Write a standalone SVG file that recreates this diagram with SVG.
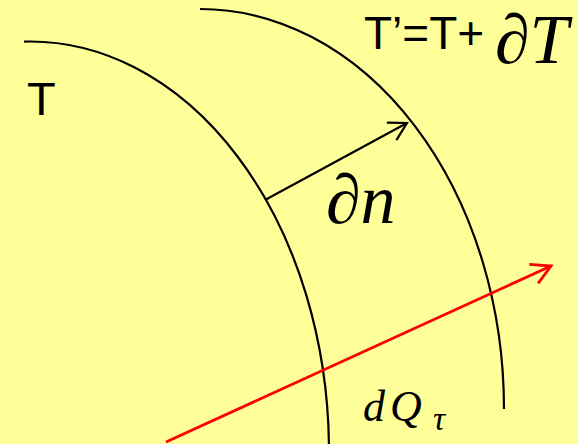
<svg xmlns="http://www.w3.org/2000/svg" width="578" height="444" viewBox="0 0 578 444">
  <style>
    .arc { fill: none; stroke: #000; stroke-width: 2.2; }
    .sans { font-family: "Liberation Sans", Arial, sans-serif; fill: #000; }
    .math { font-family: "Liberation Serif", "Times New Roman", serif; font-style: italic; fill: #000; }
  </style>
  <defs>
    <marker id="headBlack" markerUnits="userSpaceOnUse" viewBox="-22 -13 26 26" markerWidth="26" markerHeight="26" refX="0" refY="0" orient="auto">
      <path d="M-17.5,-10 L0,0 L-17.5,10" fill="none" stroke="#000" stroke-width="2.2" stroke-linejoin="miter"/>
    </marker>
    <marker id="headRed" markerUnits="userSpaceOnUse" viewBox="-22 -13 26 26" markerWidth="26" markerHeight="26" refX="0" refY="0" orient="auto">
      <path d="M-19,-10.5 L0,0 L-19,10.5" fill="none" stroke="#FF0000" stroke-width="2.8"/>
    </marker>
  </defs>
  <rect width="578" height="444" fill="#FFFF99"/>

  <g id="inner-isotherm">
    <path class="arc" d="M24,41.6 A299,410.5 0 0 1 328.97,446"/>
  </g>
  <g id="outer-isotherm">
    <path class="arc" d="M200,9 A304,400 0 0 1 504,409"/>
  </g>

  <g id="connectors">
    <line id="normal" x1="265" y1="200" x2="407" y2="123" stroke="#000" stroke-width="2.2" marker-end="url(#headBlack)"/>
    <line id="heat-flow" x1="166" y1="442" x2="551" y2="266" stroke="#FF0000" stroke-width="2.8" marker-end="url(#headRed)"/>
  </g>

  <g id="labels">
    <text class="sans" x="27" y="115" font-size="47">T</text>
    <text class="sans" x="364" y="49" font-size="46">T’=T+</text>
    <text class="math" x="495" y="63" font-size="70">∂T</text>
    <text class="math" x="326" y="223" font-size="70">∂n</text>
    <text class="math" x="363" y="421" font-size="44">d<tspan x="390">Q</tspan><tspan x="433" y="430" font-size="34">τ</tspan></text>
  </g>
</svg>
